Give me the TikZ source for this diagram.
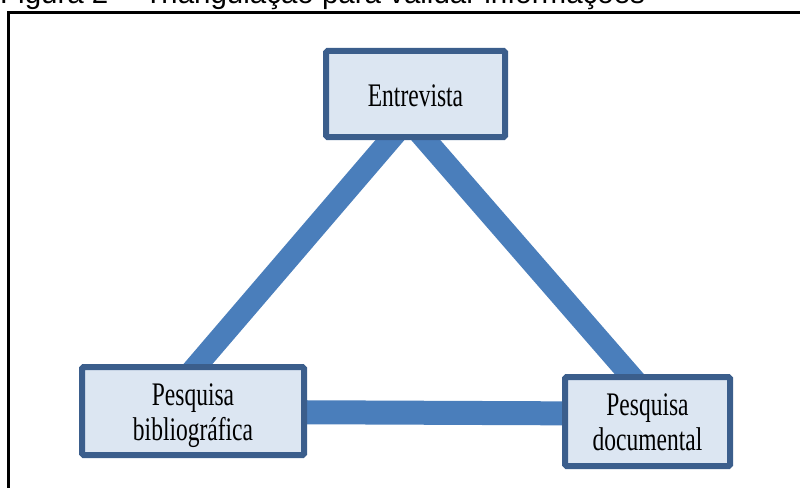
\documentclass[tikz,border=0pt]{standalone}
\usepackage{fontspec}
\setmainfont{Liberation Serif}
\newfontfamily\titlefont{Liberation Sans}
\usetikzlibrary{backgrounds,calc}
\definecolor{linkblue}{HTML}{4A7EBB}
\definecolor{boxborder}{HTML}{3B5E8C}
\definecolor{boxfill}{HTML}{DCE6F2}
\tikzset{
  tribox/.style={draw=boxborder, fill=boxfill, line width=6pt, rounded corners=1.5pt, inner sep=0pt},
  tlink/.style={draw=linkblue, line width=22pt},
  boxtext/.style={font=\fontsize{23.5}{25.7}\selectfont}
}
\newcommand{\boxlabel}[2]{\raisebox{#1}[0pt][0pt]{\scalebox{1}[1.4]{\begin{tabular}[t]{@{}c@{}}#2\end{tabular}}}}
\begin{document}
\begin{tikzpicture}[x=1pt,y=-1pt]
\useasboundingbox (0,0) rectangle (800,487);
\clip (0,0) rectangle (800,487);
% title (cut at the top)
\node[anchor=base west, inner sep=0pt, font=\titlefont\fontsize{29.5}{30}\selectfont] (title) at (0,4) {Figura 2 -- Triangulação para validar informações};
% frame
\coordinate (frbl) at (8.5,500);
\coordinate (frtl) at (8.5,12.5);
\coordinate (frtr) at (820,12.5);
\draw[line width=2.7pt, black] (frbl) -- (frtl) -- (frtr);
% boxes
\node[tribox, boxtext, minimum width=179pt, minimum height=86pt] (ent) at (415.5,94) {\boxlabel{-13pt}{Entrevista}};
\node[tribox, boxtext, minimum width=222pt, minimum height=88pt] (bib) at (193,411) {\boxlabel{6pt}{Pesquisa\\bibliográfica}};
\node[tribox, boxtext, minimum width=165pt, minimum height=89pt] (doc) at (647.5,421.5) {\boxlabel{6.5pt}{Pesquisa\\documental}};
% connectors
\begin{scope}[on background layer]
\draw[tlink] ($(ent.center)+(-8.4,26)$) -- ($(bib.center)+(-17.3,-21)$);
\draw[tlink] ($(ent.center)+(-7.2,26)$) -- ($(doc.center)+(4.3,-21.5)$);
\draw[tlink, line width=24pt] ($(bib.center)+(57,1)$) -- ($(doc.center)+(-47.5,-8)$);
\end{scope}
\end{tikzpicture}
\end{document}
